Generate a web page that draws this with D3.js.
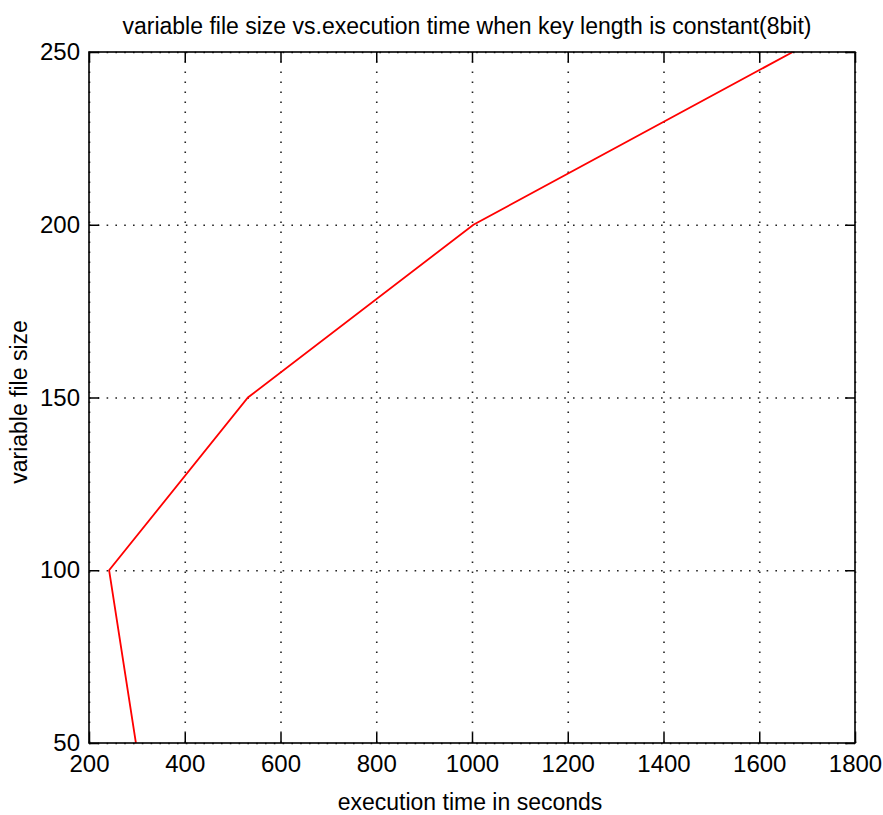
<!DOCTYPE html>
<html>
<head>
<meta charset="utf-8">
<script src="https://cdn.jsdelivr.net/npm/d3@7"></script>
<style>
  body { margin: 0; background: #fff; }
  text { font-family: "Liberation Sans", Arial, sans-serif; fill: #000; }
  .tick text { font-size: 24px; }
  .label { font-size: 23px; }
</style>
</head>
<body>
<svg width="883" height="815"></svg>
<script>
const svg = d3.select('svg');
const width = +svg.attr('width');
const height = +svg.attr('height');

// data
const execTime = [298, 242, 532, 1003, 1670];
const fileSize = [50, 100, 150, 200, 250];
const xTicks = [200, 400, 600, 800, 1000, 1200, 1400, 1600, 1800];
const yTicks = [50, 100, 150, 200, 250];

const margin = { top: 52, right: 28, bottom: 72, left: 89 };
const innerW = width - margin.left - margin.right;
const innerH = height - margin.top - margin.bottom;

const x = d3.scaleLinear().domain([200, 1800]).range([0, innerW]);
const y = d3.scaleLinear().domain([50, 250]).range([innerH, 0]);

const g = svg.append('g')
  .attr('transform', `translate(${margin.left},${margin.top})`);

// dotted grid
const gx = g.append('g')
  .attr('transform', `translate(0,${innerH})`)
  .call(d3.axisBottom(x).tickValues(xTicks).tickSize(-innerH).tickFormat(''));
gx.select('.domain').remove();
gx.selectAll('.tick line').attr('stroke', '#222').attr('stroke-width', 1.6)
  .attr('stroke-dasharray', '1.6,8.4');

const gy = g.append('g')
  .call(d3.axisLeft(y).tickValues(yTicks).tickSize(-innerW).tickFormat(''));
gy.select('.domain').remove();
gy.selectAll('.tick line').attr('stroke', '#222').attr('stroke-width', 1.6)
  .attr('stroke-dasharray', '1.6,7.2');

// the series
const points = execTime.map((t, i) => [t, fileSize[i]]);
g.append('path')
  .datum(points)
  .attr('fill', 'none')
  .attr('stroke', '#ff0000')
  .attr('stroke-width', 1.8)
  .attr('d', d3.line().x(d => x(d[0])).y(d => y(d[1])));

// axes with inward ticks, box style
const styleAxis = sel => {
  sel.select('.domain').remove();
  sel.selectAll('.tick line').attr('stroke', '#000').attr('stroke-width', 1.5);
};

g.append('g')
  .attr('transform', `translate(0,${innerH})`)
  .call(d3.axisBottom(x).tickValues(xTicks).tickSize(-10).tickPadding(12).tickFormat(d3.format('d')))
  .call(styleAxis);

g.append('g')
  .call(d3.axisTop(x).tickValues(xTicks).tickSize(-10).tickFormat(''))
  .call(styleAxis);

g.append('g')
  .call(d3.axisLeft(y).tickValues(yTicks).tickSize(-10).tickPadding(9).tickFormat(d3.format('d')))
  .call(styleAxis);

g.append('g')
  .attr('transform', `translate(${innerW},0)`)
  .call(d3.axisRight(y).tickValues(yTicks).tickSize(-10).tickFormat(''))
  .call(styleAxis);

g.append('rect')
  .attr('width', innerW)
  .attr('height', innerH)
  .attr('fill', 'none')
  .attr('stroke', '#000')
  .attr('stroke-width', 1.6);

// titles
svg.append('text')
  .attr('class', 'label')
  .attr('x', 467)
  .attr('y', 34)
  .attr('text-anchor', 'middle')
  .text('variable file size vs.execution time when key length is constant(8bit)');

svg.append('text')
  .attr('class', 'label')
  .attr('x', 470)
  .attr('y', 810)
  .attr('text-anchor', 'middle')
  .text('execution time in seconds');

svg.append('text')
  .attr('class', 'label')
  .attr('transform', 'translate(27,402) rotate(-90)')
  .attr('text-anchor', 'middle')
  .text('variable file size');
</script>
</body>
</html>
